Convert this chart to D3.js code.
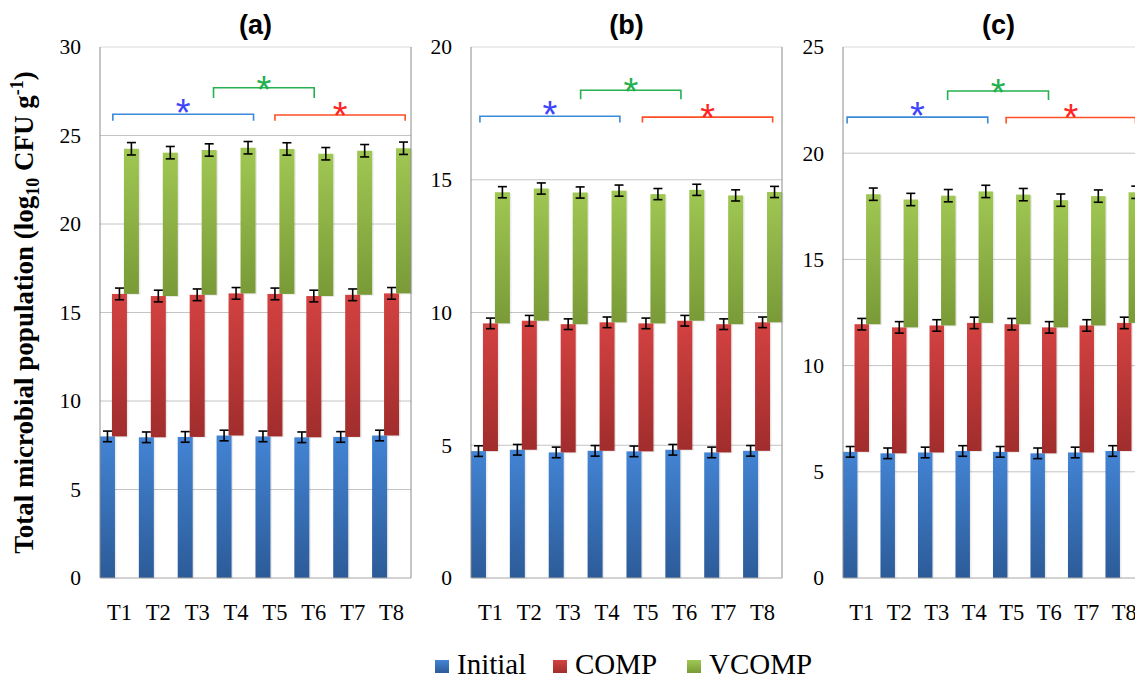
<!DOCTYPE html>
<html>
<head>
<meta charset="utf-8">
<script src="https://cdn.jsdelivr.net/npm/d3@7"></script>
<style>
  body { margin: 0; background: #fff; }
  svg { display: block; }
  .serif { font-family: "Liberation Serif", "Times New Roman", Times, serif; }
  .sans { font-family: "Liberation Sans", Arial, Helvetica, sans-serif; }
</style>
</head>
<body>
<script>
// Chart data
const treatments = ["T1", "T2", "T3", "T4", "T5", "T6", "T7", "T8"];
const seriesNames = ["Initial", "COMP", "VCOMP"];
const panelTitles = ["(a)", "(b)", "(c)"];

// segment values (log10 CFU g-1), stacked Initial -> COMP -> VCOMP
const initialA = [8.0, 7.95, 7.97, 8.05, 8.0, 7.95, 7.97, 8.05];
const compA = [8.05, 7.98, 8.03, 8.03, 8.05, 7.98, 8.03, 8.03];
const vcompA = [8.2, 8.1, 8.18, 8.23, 8.19, 8.04, 8.14, 8.2];

const initialB = [4.78, 4.83, 4.73, 4.79, 4.77, 4.83, 4.73, 4.79];
const compB = [4.81, 4.86, 4.83, 4.84, 4.82, 4.86, 4.83, 4.84];
const vcompB = [4.94, 4.98, 4.96, 4.96, 4.87, 4.93, 4.85, 4.91];

const initialC = [5.94, 5.87, 5.91, 5.98, 5.94, 5.87, 5.91, 5.98];
const compC = [6.01, 5.93, 5.98, 6.03, 6.01, 5.93, 5.98, 6.03];
const vcompC = [6.12, 6.02, 6.11, 6.19, 6.1, 5.99, 6.09, 6.15];

// error (+/-) per series: Initial, COMP, VCOMP
const errA = [0.3, 0.33, 0.35];
const errB = [0.2, 0.2, 0.21];
const errC = [0.25, 0.27, 0.29];

// y axis max and tick labels per panel
const yMaxes = [30, 20, 25];
const tickA = [0, 5, 10, 15, 20, 25, 30];
const tickB = [0, 5, 10, 15, 20];
const tickC = [0, 5, 10, 15, 20, 25];

// significance brackets: [start, end] in treatment units, line level and tick end (data units)
const bracketNames = ["blue", "green", "red"];
const bracketsA = [[0.33, 3.95, 26.2, 25.84], [2.92, 5.51, 27.7, 27.12], [4.5, 7.85, 26.16, 25.84]];
const bracketsB = [[0.23, 3.83, 17.39, 17.16], [2.82, 5.4, 18.37, 18.03], [4.41, 7.76, 17.36, 17.16]];
const bracketsC = [[0.11, 3.86, 21.7, 21.4], [2.79, 5.48, 22.93, 22.5], [4.35, 7.8, 21.68, 21.4]];

const panels = [
  { title: panelTitles[0], values: [initialA, compA, vcompA], err: errA, yMax: yMaxes[0], ticks: tickA, brackets: bracketsA },
  { title: panelTitles[1], values: [initialB, compB, vcompB], err: errB, yMax: yMaxes[1], ticks: tickB, brackets: bracketsB },
  { title: panelTitles[2], values: [initialC, compC, vcompC], err: errC, yMax: yMaxes[2], ticks: tickC, brackets: bracketsC }
];

// Layout
const svgWidth = 1135;
const svgHeight = 679;
const plotLefts = [100, 471, 843];
const plotWidths = [311, 311, 300];
const plotTop = 47;
const plotBottom = 578;
const barFrac = 0.386;   // bar width as share of a treatment band
const shiftFrac = 0.308; // series offset as share of a treatment band
const starLift = { blue: 9.5, green: 6.3, red: 7.6 }; // asterisk centre above bracket, px

const colors = {
  Initial: ["#4384d4", "#2c5b98"],
  COMP: ["#d34241", "#a02d2c"],
  VCOMP: ["#a0c753", "#799a37"]
};
const bracketColors = { blue: "#3b8ad9", green: "#27b04f", red: "#ff4f22" };
const starColors = { blue: "#3d43ff", green: "#22b04e", red: "#ff2323" };

const svg = d3.select("body")
  .append("svg")
  .attr("width", svgWidth)
  .attr("height", svgHeight);

// gradients for the bars
const defs = svg.append("defs");
seriesNames.forEach(name => {
  const g = defs.append("linearGradient")
    .attr("id", "grad-" + name)
    .attr("x1", 0).attr("y1", 0).attr("x2", 0).attr("y2", 1);
  g.append("stop").attr("offset", "0%").attr("stop-color", colors[name][0]);
  g.append("stop").attr("offset", "100%").attr("stop-color", colors[name][1]);
});

panels.forEach((panel, pi) => {
  const plotWidth = plotWidths[pi];
  const chartGroup = svg.append("g")
    .attr("transform", `translate(${plotLefts[pi]}, 0)`);

  const xScale = d3.scaleBand()
    .domain(treatments)
    .range([0, plotWidth])
    .padding(0);

  const band = xScale.bandwidth();
  const barWidth = band * barFrac;

  const shiftScale = d3.scalePoint()
    .domain(seriesNames)
    .range([-band * shiftFrac, band * shiftFrac]);

  const unitScale = d3.scaleLinear()
    .domain([0, treatments.length])
    .range([0, plotWidth]);

  const yScale = d3.scaleLinear()
    .domain([0, panel.yMax])
    .range([plotBottom, plotTop]);

  // gridlines
  chartGroup.append("g")
    .selectAll("line")
    .data(panel.ticks.filter(t => t > 0))
    .join("line")
    .attr("x1", 0)
    .attr("x2", plotWidth)
    .attr("y1", d => yScale(d))
    .attr("y2", d => yScale(d))
    .attr("stroke", d => d === panel.yMax ? "#dadada" : "#c4c4c4")
    .attr("stroke-width", 1);

  // stack the segments
  const rows = treatments.map((t, i) => {
    const row = { treatment: t };
    seriesNames.forEach((s, si) => { row[s] = panel.values[si][i]; });
    return row;
  });
  const stacked = d3.stack().keys(seriesNames)(rows);

  stacked.forEach((layer, si) => {
    const name = seriesNames[si];
    const cx = d => xScale(d.data.treatment) + band / 2 + shiftScale(name);

    // slight shadow to the right
    chartGroup.append("g")
      .selectAll("rect")
      .data(layer)
      .join("rect")
      .attr("x", d => cx(d) - barWidth / 2 + 1.5)
      .attr("y", d => yScale(d[1]) + 1)
      .attr("width", barWidth)
      .attr("height", d => yScale(d[0]) - yScale(d[1]))
      .attr("fill", "#000")
      .attr("opacity", 0.08);

    chartGroup.append("g")
      .selectAll("rect")
      .data(layer)
      .join("rect")
      .attr("x", d => cx(d) - barWidth / 2)
      .attr("y", d => yScale(d[1]))
      .attr("width", barWidth)
      .attr("height", d => yScale(d[0]) - yScale(d[1]))
      .attr("fill", `url(#grad-${name})`);
  });

  // error bars on top of every segment
  stacked.forEach((layer, si) => {
    const name = seriesNames[si];
    const e = panel.err[si];
    const cx = d => xScale(d.data.treatment) + band / 2 + shiftScale(name);
    const eg = chartGroup.append("g")
      .attr("stroke", "#000")
      .attr("stroke-width", 1.6);
    eg.selectAll("line.v")
      .data(layer)
      .join("line")
      .attr("class", "v")
      .attr("x1", cx).attr("x2", cx)
      .attr("y1", d => yScale(d[1] - e))
      .attr("y2", d => yScale(d[1] + e));
    eg.selectAll("line.t")
      .data(layer)
      .join("line")
      .attr("class", "t")
      .attr("x1", d => cx(d) - 4.5).attr("x2", d => cx(d) + 4.5)
      .attr("y1", d => yScale(d[1] + e))
      .attr("y2", d => yScale(d[1] + e));
    eg.selectAll("line.b")
      .data(layer)
      .join("line")
      .attr("class", "b")
      .attr("x1", d => cx(d) - 4.5).attr("x2", d => cx(d) + 4.5)
      .attr("y1", d => yScale(d[1] - e))
      .attr("y2", d => yScale(d[1] - e));
  });

  // plot frame: left axis, right border, bottom axis
  chartGroup.append("line")
    .attr("x1", 0).attr("x2", 0)
    .attr("y1", plotTop).attr("y2", plotBottom)
    .attr("stroke", "#8c8c8c");
  chartGroup.append("line")
    .attr("x1", plotWidth).attr("x2", plotWidth)
    .attr("y1", plotTop).attr("y2", plotBottom)
    .attr("stroke", "#8c8c8c");
  chartGroup.append("line")
    .attr("x1", 0).attr("x2", plotWidth)
    .attr("y1", plotBottom).attr("y2", plotBottom)
    .attr("stroke", "#a6a6a6");

  // axes
  const leftAxis = d3.axisLeft(yScale)
    .tickValues(panel.ticks)
    .tickSize(0)
    .tickPadding(19)
    .tickFormat(d3.format("d"));
  const yAxisGroup = chartGroup.append("g")
    .call(leftAxis)
    .attr("font-family", null)
    .attr("font-size", null);
  yAxisGroup.select(".domain").remove();
  yAxisGroup.selectAll("text")
    .attr("class", "serif")
    .style("font-size", "21.5px")
    .attr("fill", "#000");

  const bottomAxis = d3.axisBottom(xScale)
    .tickSize(0)
    .tickPadding(26);
  const xAxisGroup = chartGroup.append("g")
    .attr("transform", `translate(0, ${plotBottom})`)
    .call(bottomAxis)
    .attr("font-family", null)
    .attr("font-size", null);
  xAxisGroup.select(".domain").remove();
  xAxisGroup.selectAll("text")
    .attr("class", "serif")
    .style("font-size", "22.5px")
    .attr("fill", "#000");

  // significance brackets with asterisks
  panel.brackets.forEach((b, bi) => {
    const key = bracketNames[bi];
    const x0 = unitScale(b[0]);
    const x1 = unitScale(b[1]);
    const yl = yScale(b[2]);
    const yt = yScale(b[3]);
    chartGroup.append("path")
      .attr("d", `M${x0},${yt}V${yl}H${x1}V${yt}`)
      .attr("fill", "none")
      .attr("stroke", bracketColors[key])
      .attr("stroke-width", 1.6);
    chartGroup.append("text")
      .attr("class", "sans")
      .attr("x", (x0 + x1) / 2)
      .attr("y", yl - starLift[key] + 21.5)
      .attr("text-anchor", "middle")
      .style("font-size", "38px")
      .attr("fill", starColors[key])
      .text("*");
  });

  // panel title
  chartGroup.append("text")
    .attr("class", "sans")
    .attr("x", plotWidths[0] / 2)
    .attr("y", 34)
    .attr("text-anchor", "middle")
    .style("font-weight", "bold")
    .style("font-size", "27px")
    .attr("fill", "#000")
    .text(panel.title);
});

// y axis title
const yTitle = svg.append("text")
  .attr("class", "serif")
  .attr("transform", `translate(33, ${(plotTop + plotBottom) / 2}) rotate(-90)`)
  .attr("text-anchor", "middle")
  .style("font-weight", "bold")
  .style("font-size", "27px")
  .attr("fill", "#000");
yTitle.append("tspan").text("Total microbial population (log");
yTitle.append("tspan").style("font-size", "18px").attr("dy", 6).text("10");
yTitle.append("tspan").attr("dy", -6).text(" CFU g");
yTitle.append("tspan").style("font-size", "18px").attr("dy", -10).text("-1");
yTitle.append("tspan").attr("dy", 10).text(")");

// legend
const legendX = [435, 553, 687];
const legend = svg.append("g");
seriesNames.forEach((name, i) => {
  legend.append("rect")
    .attr("x", legendX[i])
    .attr("y", 660)
    .attr("width", 14)
    .attr("height", 13)
    .attr("fill", `url(#grad-${name})`);
  legend.append("text")
    .attr("class", "serif")
    .attr("x", legendX[i] + 22)
    .attr("y", 674)
    .style("font-size", "29px")
    .attr("fill", "#000")
    .text(name);
});
</script>
</body>
</html>
